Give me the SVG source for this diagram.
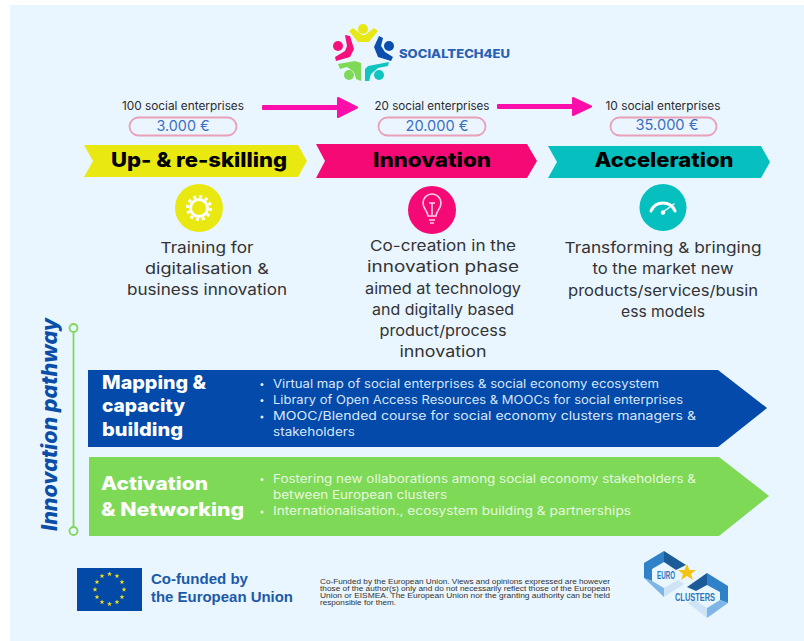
<svg xmlns="http://www.w3.org/2000/svg" width="804" height="641" viewBox="0 0 804 641">
<style>
text{font-family:"Inter","Open Sans","Liberation Sans",sans-serif}
.lib{font-family:"Liberation Sans",sans-serif}
.count{font-size:11.5px;fill:#2b2b2b;text-anchor:middle}
.amt{font-size:14.500px;fill:#3a70c2;text-anchor:middle}
.pill{fill:#eaf5ff;stroke:#e9a0b8;stroke-width:1.800}
.ban{font-size:20px;font-weight:800;fill:#000;text-anchor:middle}
.body{font-size:15px;fill:#333;text-anchor:middle}
.h{font-size:18.500px;font-weight:800;fill:#fff}
.b{font-size:11.500px;fill:#d8e6f7}
.g{font-size:11.500px;fill:#e6f8df}
.ic{fill:none;stroke:#fff;stroke-width:2}
</style>
<defs>
<polygon id="s" points="0,-2.400 .7,-.7 2.400,-.7 1,.4 1.500,2.200 0,1.100 -1.500,2.200 -1,.4 -2.400,-.7 -.7,-.7" fill="#f5dc1e"/>
</defs>
<rect width="804" height="641" fill="#fff"/>
<rect x="10" y="5" width="794" height="636" fill="#e9f5ff"/>

<g id="logo-socialtech">
<polygon points="349,31 353,28 362,35 365,35 374,28 378,31 369,42 358,42" fill="#e8e816"/>
<polygon points="345,35 350,36 354,49 350,57 336,61 335,57 345,51 347,46" fill="#f5107c"/>
<polygon points="379,36 383,38 381,46 385,52 393,57 391,61 378,57 374,47" fill="#0a4fae"/>
<polygon points="338,64 355,61 361,63 361,81 356,79 354,72 347,67 340,69" fill="#7ed957"/>
<polygon points="389,62 368,66 365,69 365,81 369,81 371,74 378,68 388,66" fill="#10c4c0"/>
<circle cx="363" cy="29" r="5" fill="#e8e816"/>
<circle cx="338" cy="46" r="5" fill="#f5107c"/>
<circle cx="389" cy="46" r="5" fill="#0a4fae"/>
<circle cx="349" cy="75" r="5" fill="#7ed957"/>
<circle cx="379" cy="75" r="5" fill="#10c4c0"/>
<text x="399" y="58" font-size="11.500" font-weight="800" fill="#2a60b4" textLength="111" lengthAdjust="spacingAndGlyphs">SOCIALTECH4EU</text>
</g>

<g id="connectors">
<path d="M263 106 H338 V98 L357 107.500 L338 117 V109 H263 Z" fill="#fb0eaa" stroke="#fb0eaa" stroke-width="2" stroke-linejoin="round"/>
<path d="M498 105 H573 V98 L591 106.500 L573 115 V108 H498 Z" fill="#fb0eaa" stroke="#fb0eaa" stroke-width="2" stroke-linejoin="round"/>
<line x1="73.500" y1="332" x2="73.500" y2="527" stroke="#7fd957" stroke-width="1.800"/>
<circle cx="73.500" cy="328" r="4" fill="#e9f5ff" stroke="#7fd957" stroke-width="1.800"/>
<circle cx="73.500" cy="531" r="4" fill="#e9f5ff" stroke="#7fd957" stroke-width="1.800"/>
</g>

<g id="node-upskilling">
<text class="count" x="183" y="110" textLength="122" lengthAdjust="spacingAndGlyphs">100 social enterprises</text>
<rect class="pill" x="129.500" y="117.500" width="107" height="18" rx="9"/>
<text class="amt" x="183" y="131" textLength="53" lengthAdjust="spacingAndGlyphs">3.000 €</text>
<polygon points="84,145 298,145 307,161 298,177 84,177 93,161" fill="#e9e911"/>
<text class="ban" x="199" y="167" textLength="176" lengthAdjust="spacingAndGlyphs">Up- &amp; re-skilling</text>
<circle cx="199" cy="208" r="24" fill="#e9e911"/>
<circle cx="199" cy="208" r="8.500" fill="none" stroke="#fff" stroke-width="3"/>
<circle cx="199" cy="208" r="11.500" fill="none" stroke="#fff" stroke-width="3" stroke-dasharray="3 3"/>
<text class="body" x="207" y="253" textLength="93" lengthAdjust="spacingAndGlyphs">Training for</text>
<text class="body" x="207" y="274" textLength="124" lengthAdjust="spacingAndGlyphs">digitalisation &amp;</text>
<text class="body" x="207" y="295" textLength="160" lengthAdjust="spacingAndGlyphs">business innovation</text>
</g>

<g id="node-innovation">
<text class="count" x="432" y="110" textLength="115" lengthAdjust="spacingAndGlyphs">20 social enterprises</text>
<rect class="pill" x="378.500" y="117.500" width="107" height="18" rx="9"/>
<text class="amt" x="437" y="131" textLength="63" lengthAdjust="spacingAndGlyphs">20.000 €</text>
<polygon points="316,144 527,144 537,161 527,178 316,178 325,161" fill="#f50a75"/>
<text class="ban" x="432" y="167" textLength="118" lengthAdjust="spacingAndGlyphs">Innovation</text>
<circle cx="432" cy="210" r="24" fill="#f50a75"/>
<path class="ic" style="stroke:#ffd3e6;stroke-width:1.600" d="M428 216 C428 211 423 209 423 203 A9 9 0 0 1 441 203 C441 209 436 211 436 216 Z M429 220 H435 M430 223 H434 M429 203 H435 M432 203 V215"/>
<text class="body" x="443" y="251" textLength="146" lengthAdjust="spacingAndGlyphs">Co-creation in the</text>
<text class="body" x="443" y="272" textLength="152" lengthAdjust="spacingAndGlyphs">innovation phase</text>
<text class="body" x="443" y="294" textLength="156" lengthAdjust="spacingAndGlyphs">aimed at technology</text>
<text class="body" x="443" y="315" textLength="142" lengthAdjust="spacingAndGlyphs">and digitally based</text>
<text class="body" x="443" y="336" textLength="127" lengthAdjust="spacingAndGlyphs">product/process</text>
<text class="body" x="443" y="357" textLength="87" lengthAdjust="spacingAndGlyphs">innovation</text>
</g>

<g id="node-acceleration">
<text class="count" x="663" y="110" textLength="115" lengthAdjust="spacingAndGlyphs">10 social enterprises</text>
<rect class="pill" x="610.500" y="117.500" width="106" height="18" rx="9"/>
<text class="amt" x="667" y="130" textLength="63" lengthAdjust="spacingAndGlyphs">35.000 €</text>
<polygon points="548,146 761,146 770,162 761,178 548,178 557,162" fill="#06c0bf"/>
<text class="ban" x="664" y="167" textLength="139" lengthAdjust="spacingAndGlyphs">Acceleration</text>
<circle cx="663" cy="207.500" r="23.500" fill="#06c0bf"/>
<path class="ic" stroke-linecap="round" style="stroke-width:3" d="M651 211 A13 13 0 0 1 675 211"/>
<path class="ic" stroke-linecap="round" style="stroke-width:1.500" d="M663 212 L674 204"/>
<circle cx="663" cy="212.500" r="2.200" fill="#fff"/>
<text class="body" x="663" y="253" textLength="197" lengthAdjust="spacingAndGlyphs">Transforming &amp; bringing</text>
<text class="body" x="663" y="274" textLength="141" lengthAdjust="spacingAndGlyphs">to the market new</text>
<text class="body" x="663" y="296" textLength="190" lengthAdjust="spacingAndGlyphs">products/services/busin</text>
<text class="body" x="663" y="317" textLength="84" lengthAdjust="spacingAndGlyphs">ess models</text>
</g>

<g id="pathway-label">
<text transform="translate(57 531) rotate(-90)" font-size="21" font-weight="800" font-style="italic" fill="#0a4ea8" textLength="213" lengthAdjust="spacingAndGlyphs">Innovation pathway</text>
</g>

<g id="node-mapping">
<polygon points="88,370 718,370 767,408 718,447 88,447" fill="#034aab"/>
<text class="h" x="102" y="389" textLength="104" lengthAdjust="spacingAndGlyphs">Mapping &amp;</text>
<text class="h" x="102" y="412" textLength="83" lengthAdjust="spacingAndGlyphs">capacity</text>
<text class="h" x="102" y="436" textLength="81" lengthAdjust="spacingAndGlyphs">building</text>
<g fill="#e6effa"><circle cx="262" cy="384.500" r="1.500"/><circle cx="262" cy="400.500" r="1.500"/><circle cx="262" cy="417" r="1.500"/></g>
<text class="b" x="273" y="388" textLength="386" lengthAdjust="spacingAndGlyphs">Virtual map of social enterprises &amp; social economy ecosystem</text>
<text class="b" x="273" y="404" textLength="410" lengthAdjust="spacingAndGlyphs">Library of Open Access Resources &amp; MOOCs for social enterprises</text>
<text class="b" x="273" y="420" textLength="423" lengthAdjust="spacingAndGlyphs">MOOC/Blended course for social economy clusters managers &amp;</text>
<text class="b" x="273" y="436" textLength="82" lengthAdjust="spacingAndGlyphs">stakeholders</text>
</g>

<g id="node-activation">
<polygon points="89,457 719,457 769,496 719,536 89,536" fill="#7ed957"/>
<text class="h" x="101" y="490" textLength="107" lengthAdjust="spacingAndGlyphs">Activation</text>
<text class="h" x="101" y="516" textLength="143" lengthAdjust="spacingAndGlyphs">&amp; Networking</text>
<g fill="#f0fbe9"><circle cx="262" cy="479.500" r="1.500"/><circle cx="262" cy="512" r="1.500"/></g>
<text class="g" x="273" y="483" textLength="423" lengthAdjust="spacingAndGlyphs">Fostering new ollaborations among social economy stakeholders &amp;</text>
<text class="g" x="273" y="499" textLength="174" lengthAdjust="spacingAndGlyphs">between European clusters</text>
<text class="g" x="273" y="515" textLength="358" lengthAdjust="spacingAndGlyphs">Internationalisation., ecosystem building &amp; partnerships</text>
</g>

<g id="eu-flag">
<rect x="77" y="568" width="65" height="43" fill="#034aa6"/>
<use href="#s" x="109.500" y="574"/><use href="#s" x="117" y="576"/><use href="#s" x="122" y="582"/><use href="#s" x="124" y="589.500"/><use href="#s" x="122" y="597"/><use href="#s" x="117" y="602"/><use href="#s" x="109.500" y="604"/><use href="#s" x="102" y="602"/><use href="#s" x="97" y="597"/><use href="#s" x="95" y="589.500"/><use href="#s" x="97" y="582"/><use href="#s" x="102" y="576"/>
<text class="lib" x="151" y="584" font-size="15" font-weight="700" fill="#1c5aa8" textLength="97" lengthAdjust="spacingAndGlyphs">Co-funded by</text>
<text class="lib" x="151" y="602" font-size="15" font-weight="700" fill="#1c5aa8" textLength="142" lengthAdjust="spacingAndGlyphs">the European Union</text>
</g>

<g id="disclaimer" font-size="6.800" fill="#333">
<text class="lib" x="320" y="584" textLength="290" lengthAdjust="spacingAndGlyphs">Co-Funded by the European Union. Views and opinions expressed are however</text>
<text class="lib" x="320" y="591" textLength="290" lengthAdjust="spacingAndGlyphs">those of the author(s) only and do not necessarily reflect those of the European</text>
<text class="lib" x="320" y="598" textLength="290" lengthAdjust="spacingAndGlyphs">Union or EISMEA. The European Union nor the granting authority can be held</text>
<text class="lib" x="320" y="605" textLength="76" lengthAdjust="spacingAndGlyphs">responsible for them.</text>
</g>

<g id="logo-euroclusters">
<polygon points="664,551 686,565 676,570 664,562" fill="#1b5c98"/>
<polygon points="664,551 664,562 652,569 652,581 644,578 644,563" fill="#2f82c8"/>
<polygon points="644,578 652,581 664,588 664,597" fill="#7db6e6"/>
<polygon points="664,588 678,580 684,584 664,597" fill="#cfe3f6"/>
<polygon points="707,573 687,587 696,591 707,585" fill="#1b5c98"/>
<polygon points="707,573 728,586 728,603 720,600 720,592 707,585" fill="#2f82c8"/>
<polygon points="728,603 720,600 707,608 707,618" fill="#7db6e6"/>
<polygon points="707,608 695,600 688,603 707,618" fill="#cfe3f6"/>
<polygon points="687,564 689.500,570 696,570 691,574 693,580 687,576 681,580 683,574 678,570 684.500,570" fill="#f3c414"/>
<text class="lib" x="657" y="579" font-size="11" font-weight="700" fill="#2a78bc" textLength="18" lengthAdjust="spacingAndGlyphs">EURO</text>
<text class="lib" x="675" y="601" font-size="11" font-weight="700" fill="#2a78bc" textLength="40" lengthAdjust="spacingAndGlyphs">CLUSTERS</text>
</g>
</svg>
